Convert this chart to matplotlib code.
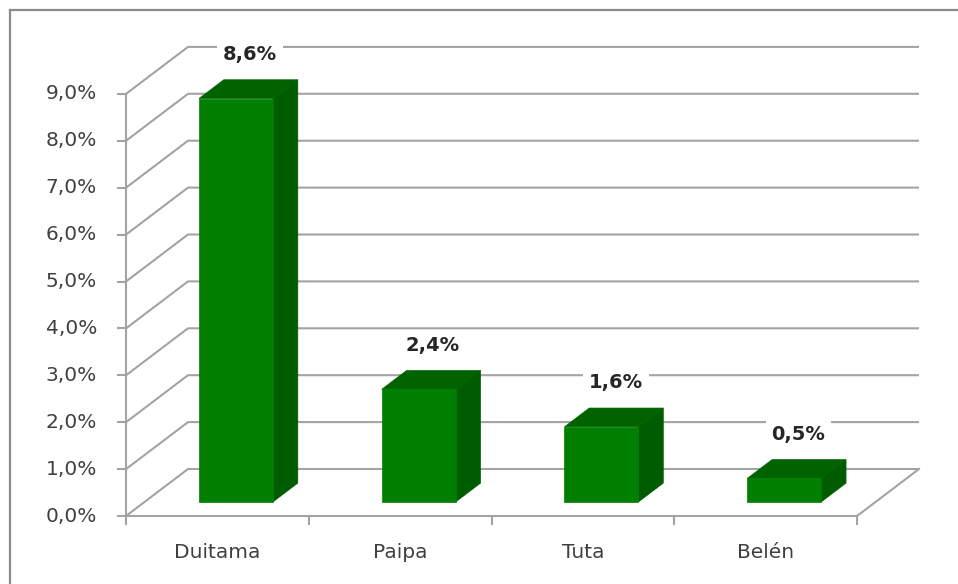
import matplotlib
matplotlib.use("Agg")
import matplotlib.pyplot as plt
from matplotlib.patches import Polygon
from matplotlib.lines import Line2D

# ---- data ----
categories = ["Duitama", "Paipa", "Tuta", "Belén"]
values = [8.6, 2.4, 1.6, 0.5]
value_labels = ["8,6%", "2,4%", "1,6%", "0,5%"]
yticks = [0, 1, 2, 3, 4, 5, 6, 7, 8, 9]
ytick_labels = ["0,0%", "1,0%", "2,0%", "3,0%", "4,0%", "5,0%", "6,0%", "7,0%", "8,0%", "9,0%"]

# ---- geometry (pixel scale) ----
W, H = 958, 584
S = 182.75      # px per category
P = 46.9        # px per 1 %
X0, Y0 = 126, 516
DX, DY = 62 / S, 47 / P   # depth offset in data units
BAR_W = 0.405
D0, D1 = 0.3, 0.7

fig = plt.figure(figsize=(W / 100, H / 100), dpi=100)
ax = fig.add_axes([0, 0, 1, 1])
ax.set_xlim(-X0 / S, (W - X0) / S)
ax.set_ylim((Y0 - H) / P, Y0 / P)
ax.axis("off")


def proj(x, y, d):
    return (x + d * DX, y + d * DY)


grid_c = "#a3a3a3"
lw = 1.5
n = len(categories)

# gridlines on back wall + left wall diagonals
for v in yticks:
    a = proj(0, v, 0)
    b = proj(0, v, 1)
    c = proj(n, v, 1)
    ax.plot([a[0], b[0], c[0]], [a[1], b[1], c[1]], color=grid_c, lw=lw, zorder=1,
            solid_capstyle="butt")

# floor
f0, f1, f2 = proj(0, 0, 0), proj(n, 0, 0), proj(n, 0, 1)
ax.plot([f0[0], f1[0], f2[0]], [f0[1], f1[1], f2[1]], color=grid_c, lw=lw, zorder=1)
# front vertical axis
top = proj(0, yticks[-1], 0)
ax.plot([f0[0], top[0]], [f0[1], top[1]], color=grid_c, lw=lw, zorder=1)

# y ticks and labels
for v, lab in zip(yticks, ytick_labels):
    ax.plot([-8 / S, 0], [v, v], color=grid_c, lw=lw, zorder=1)
    ax.text(-29 / S, v, lab, ha="right", va="center", fontsize=14.5, color="#404040",
            family="DejaVu Sans")

# x ticks
for i in range(n + 1):
    ax.plot([i, i], [0, -8 / P], color=grid_c, lw=lw, zorder=1)

# category labels
for i, cat in enumerate(categories):
    ax.text(i + 0.5, -37 / P, cat, ha="center", va="center", fontsize=14.5, color="#404040",
            family="DejaVu Sans")

front_c = "#007f00"
side_c = "#005c00"
top_c = "#006300"

for i, (v, lab) in enumerate(zip(values, value_labels)):
    xl = i + 0.5 - BAR_W / 2
    xr = i + 0.5 + BAR_W / 2
    front = [proj(xl, 0, D0), proj(xr, 0, D0), proj(xr, v, D0), proj(xl, v, D0)]
    side = [proj(xr, 0, D0), proj(xr, 0, D1), proj(xr, v, D1), proj(xr, v, D0)]
    topf = [proj(xl, v, D0), proj(xr, v, D0), proj(xr, v, D1), proj(xl, v, D1)]
    ax.add_patch(Polygon(side, closed=True, facecolor=side_c, edgecolor=side_c, lw=0.5, zorder=3))
    ax.add_patch(Polygon(topf, closed=True, facecolor=top_c, edgecolor=top_c, lw=0.5, zorder=3))
    ax.add_patch(Polygon(front, closed=True, facecolor=front_c, edgecolor=front_c, lw=0.5, zorder=4))
    lx, ly = proj(i + 0.5, v + 1.24, 0)
    ax.text(lx + 0.18, ly, lab, ha="center", va="center", fontsize=14, fontweight="bold",
            color="#262626", family="DejaVu Sans", zorder=5,
            bbox=dict(boxstyle="square,pad=0.3", facecolor="white", edgecolor="none"))

# outer frame (top and left edges)
fig.add_artist(Line2D([10 / W, 10 / W], [0, 1 - 10 / H], transform=fig.transFigure,
                      color="#8c8c8c", lw=1.6))
fig.add_artist(Line2D([10 / W, 1], [1 - 10 / H, 1 - 10 / H], transform=fig.transFigure,
                      color="#8c8c8c", lw=1.6))

fig.savefig("out.png", dpi=100, facecolor="white")
